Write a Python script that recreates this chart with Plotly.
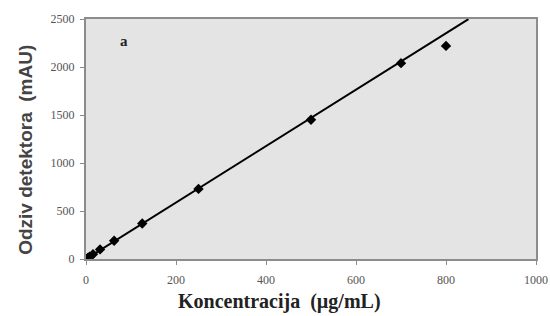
import plotly.graph_objects as go

conc = [0, 3.9, 7.8, 15.6, 31.25, 62.5, 125, 250, 500, 700, 800]
response = [0, 12, 25, 50, 100, 190, 370, 730, 1450, 2040, 2220]
fit_slope = 2.94
fit_intercept = 0
fit_x = [0, 850]
fit_y = [fit_intercept + fit_slope * x for x in fit_x]
x_ticks = [0, 200, 400, 600, 800, 1000]
y_ticks = [0, 500, 1000, 1500, 2000, 2500]
x_title = "Koncentracija  (µg/mL)"
y_title = "Odziv detektora  (mAU)"

serif = "Liberation Serif, Times New Roman, serif"
sans = "Liberation Sans, Arial, sans-serif"

fig = go.Figure()
fig.add_trace(go.Scatter(x=fit_x, y=fit_y, mode="lines",
                         line=dict(color="black", width=2), showlegend=False))
fig.add_trace(go.Scatter(x=conc, y=response, mode="markers",
                         marker=dict(symbol="diamond", size=8, color="black"),
                         showlegend=False))

fig.add_annotation(x=0.085, y=0.91, xref="paper", yref="paper", text="<b>a</b>",
                   xanchor="center", yanchor="middle",
                   showarrow=False, font=dict(family=serif, size=15, color="#222"))
fig.add_annotation(x=0.429, y=-0.179, xref="paper", yref="paper",
                   text="<b>" + x_title + "</b>", xanchor="center", yanchor="middle",
                   showarrow=False, font=dict(family=serif, size=20, color="#222"))
fig.add_annotation(x=-0.136, y=0.454, xref="paper", yref="paper",
                   text="<b>" + y_title + "</b>", xanchor="center", yanchor="middle",
                   textangle=-90,
                   showarrow=False, font=dict(family=sans, size=19, color="#444"))

axis_common = dict(showgrid=False, zeroline=False, showline=True, linecolor="#8c8c8c",
                   linewidth=2, mirror=True, ticks="outside", ticklen=4,
                   tickcolor="#8c8c8c", tickwidth=1, automargin=False,
                   tickfont=dict(family=serif, size=12, color="#555"))

fig.update_xaxes(range=[0, 1000], tickvals=x_ticks, ticklabelstandoff=5, **axis_common)
fig.update_yaxes(range=[0, 2500], tickvals=y_ticks, ticklabelstandoff=3, **axis_common)

fig.update_layout(width=550, height=316, margin=dict(l=86, r=14, t=19, b=57),
                  plot_bgcolor="#e4e4e4", paper_bgcolor="white")
fig.write_html("out.html", config={"displayModeBar": False},
               post_script="document.body.style.margin='0';document.body.style.overflow='hidden';")
